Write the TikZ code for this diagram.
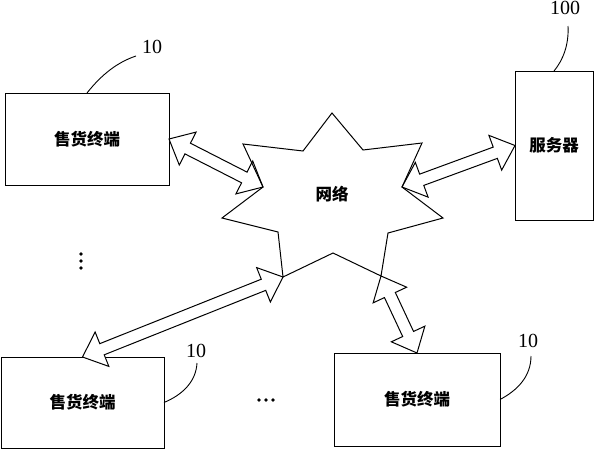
\documentclass[tikz,border=0pt]{standalone}
\usepackage{fontspec}
\newfontfamily\cjk{Noto Sans CJK SC}
\newfontfamily\numfont{Liberation Serif}
\usetikzlibrary{calc}
\newcommand\hl{21pt}
\newcommand\hw{18.5pt}
\newcommand\sw{6pt}
\newcommand\dblarrow[2]{%
  \draw[fatarrow] (#1)
   -- ($(#1)!\hl!(#2)!\hw!90:(#2)$) -- ($(#1)!\hl!(#2)!\sw!90:(#2)$)
   -- ($(#2)!\hl!(#1)!\sw!-90:(#1)$) -- ($(#2)!\hl!(#1)!\hw!-90:(#1)$)
   -- (#2)
   -- ($(#2)!\hl!(#1)!\hw!90:(#1)$) -- ($(#2)!\hl!(#1)!\sw!90:(#1)$)
   -- ($(#1)!\hl!(#2)!\sw!-90:(#2)$) -- ($(#1)!\hl!(#2)!\hw!-90:(#2)$)
   -- cycle;}
\begin{document}
\begin{tikzpicture}[x=1pt,y=-1pt,line width=1pt,line join=miter,
  box/.style={draw,rectangle,inner sep=0pt,outer sep=0pt,
    font=\cjk\bfseries\fontsize{16.5}{18}\selectfont},
  fatarrow/.style={draw,fill=white,line join=miter},
  refnum/.style={inner sep=0pt,font=\numfont\fontsize{20}{21}\selectfont},
  leader/.style={draw,line width=0.9pt},
  netlabel/.style={inner sep=0pt,font=\cjk\bfseries\fontsize{16.5}{18}\selectfont}]
\useasboundingbox[fill=white] (0,0) rectangle (594,450);

% boxes
\node[box,minimum width=164pt,minimum height=92pt] (tl) at (87,139) {售货终端};
\node[box,minimum width=78pt,minimum height=149pt] (srv) at (554,145.5) {服务器};
\node[box,minimum width=163pt,minimum height=91pt] (bl) at (82.5,402.5) {售货终端};
\node[box,minimum width=166pt,minimum height=93pt] (br) at (417,399.5) {售货终端};

% star vertices
\coordinate (s1) at (332,113);
\coordinate (s2) at (363,150);
\coordinate (s3) at (422,143);
\coordinate (s4) at (402,187);
\coordinate (s5) at (443,218);
\coordinate (s6) at (388,233);
\coordinate (s7) at (381,276);
\coordinate (s8) at (333,253);
\coordinate (s9) at (283,277);
\coordinate (s10) at (278,232);
\coordinate (s11) at (222,218);
\coordinate (s12) at (263,187);
\coordinate (s13) at (243,144);
\coordinate (s14) at (303,151);

% arrows
\dblarrow{tl.east}{s12}
\dblarrow{s4}{srv.west}
\dblarrow{s9}{bl.north}
\dblarrow{s7}{br.north}

% star outline
\draw (s1) -- (s2) -- (s3) -- (s4) -- (s5) -- (s6) -- (s7) -- (s8) -- (s9)
  -- (s10) -- (s11) -- (s12) -- (s13) -- (s14) -- cycle;
\node[netlabel] (net) at (332,194) {网络};

% reference numbers and leaders
\node[refnum] (n1) at (152,47) {10};
\coordinate (e1) at (136,56);
\draw[leader] (tl.north) .. controls (102,74) and (118,62) .. (e1);

\node[refnum] (n2) at (565,8) {100};
\coordinate (e2) at (568,26);
\draw[leader] (srv.north) .. controls (563,60) and (569,45) .. (e2);

\node[refnum] (n3) at (196,351) {10};
\coordinate (e3) at (197,363);
\draw[leader] (bl.east) .. controls (182,395) and (196,382) .. (e3);

\node[refnum] (n4) at (528,341) {10};
\coordinate (e4) at (531,356);
\draw[leader] (br.east) .. controls (518,390) and (531,376) .. (e4);

% ellipses
\fill (81,254) circle (1.9) (81,261) circle (1.9) (81,268) circle (1.9);
\fill (259,400) circle (1.9) (266,400) circle (1.9) (273,400) circle (1.9);
\end{tikzpicture}
\end{document}
